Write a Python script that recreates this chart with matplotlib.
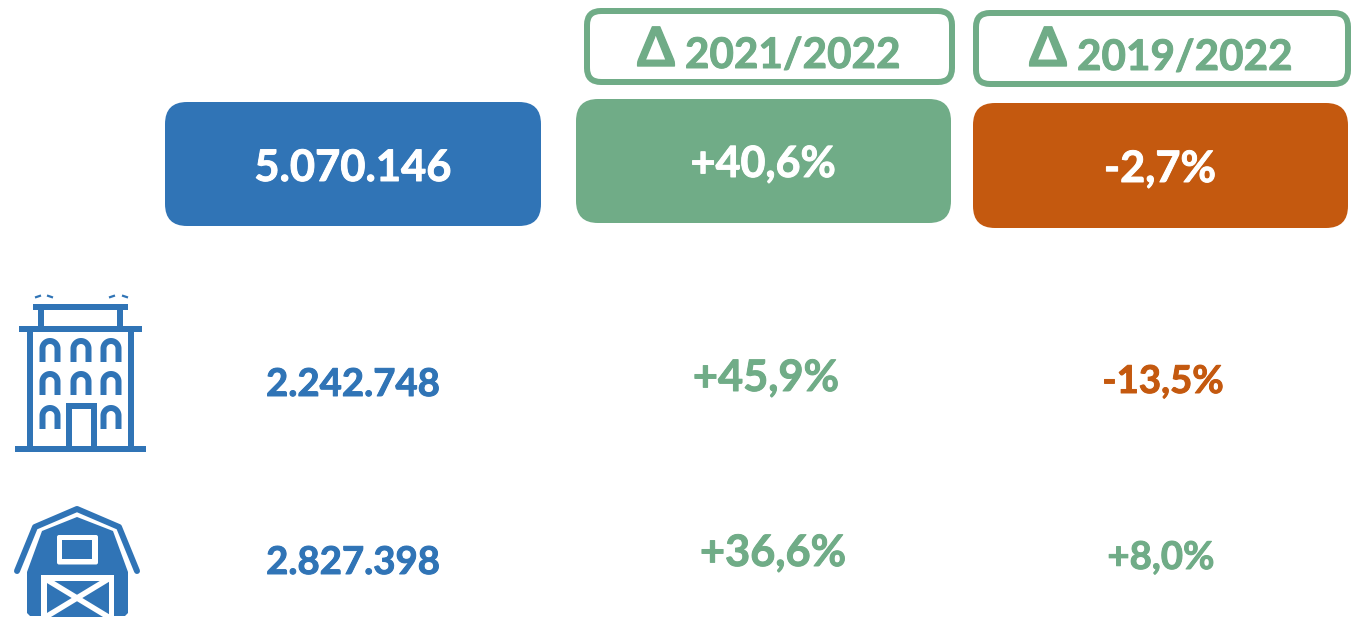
import matplotlib
matplotlib.use("Agg")
import matplotlib.pyplot as plt
from matplotlib.patches import FancyBboxPatch, Rectangle, Polygon
import matplotlib.patheffects as pe
import numpy as np

totals = ["5.070.146"]
urban_rural = ["2.242.748", "2.827.398"]
delta_headers = ["2021/2022", "2019/2022"]
delta_total = ["+40,6%", "-2,7%"]
delta_urban = ["+45,9%", "-13,5%"]
delta_rural = ["+36,6%", "+8,0%"]

BLUE = "#3074B6"
GREEN = "#70AC87"
ORANGE = "#C4590F"
W, H = 1353, 627
plt.rcParams["font.family"] = ["Lato", "DejaVu Sans"]

fig = plt.figure(figsize=(W / 100, H / 100), dpi=100)
ax = fig.add_axes([0, 0, 1, 1])
ax.set_xlim(0, W); ax.set_ylim(H, 0); ax.axis("off")
PX = 0.72


def box(x0, y0, x1, y1, r=18, fc=None, ec="none", lw=0):
    ax.add_patch(FancyBboxPatch((x0 + r, y0 + r), x1 - x0 - 2 * r, y1 - y0 - 2 * r,
                                boxstyle=f"round,pad={r},rounding_size={r}",
                                fc=fc if fc else "none", ec=ec, lw=lw * PX))


def label(x, y, s, size, color, bold=0.7):
    ax.text(x, y, s, fontsize=size, color=color, ha="center", va="baseline", fontweight="bold",
            path_effects=[pe.withStroke(linewidth=bold, foreground=color)])


# header outlines
box(587, 11, 952, 82, r=14, ec=GREEN, lw=6)
box(976, 13, 1348, 84, r=14, ec=GREEN, lw=6)
for dx, dy, tx, ty, s in [(656, 66, 793, 68, delta_headers[0]), (1048, 66, 1185, 70, delta_headers[1])]:
    label(dx, dy, "Δ", 39, GREEN, bold=1.0)
    label(tx, ty, s, 30.4, GREEN)

# headline boxes
box(165, 102, 541, 226, r=22, fc=BLUE)
box(576, 99, 951, 223, r=22, fc=GREEN)
box(973, 103, 1348, 228, r=22, fc=ORANGE)
label(353, 181, totals[0], 31.3, "white")
label(763, 177, delta_total[0], 31, "white")
label(1160, 182, delta_total[1], 31.2, "white")

# rows
label(353, 396, urban_rural[0], 27.6, BLUE)
label(766, 391, delta_urban[0], 31.2, GREEN)
label(1163, 393, delta_urban[1], 27.6, ORANGE)
label(353, 574, urban_rural[1], 27.6, BLUE)
label(773, 566, delta_rural[0], 31.2, GREEN)
label(1161, 569, delta_rural[1], 27.6, GREEN)


# building icon
def rect(x0, y0, x1, y1, c=BLUE):
    ax.add_patch(Rectangle((x0, y0), x1 - x0, y1 - y0, fc=c, ec="none"))


for r in [(33, 304, 128, 310), (38, 310, 44, 327), (117, 310, 123, 327), (19, 326, 142, 332),
          (27, 332, 33, 447), (128, 332, 134, 447), (15, 446, 146, 452),
          (66, 403, 72, 447), (91, 403, 97, 447), (66, 403, 97, 409)]:
    rect(*r)
for x0, x1 in [(35, 53), (109, 128)]:
    ax.plot([x0, x0 + 6], [297.5, 295.5], color=BLUE, lw=1.6, solid_capstyle="butt")
    ax.plot([x1 - 6, x1], [295.5, 297.5], color=BLUE, lw=1.6, solid_capstyle="butt")

theta = np.linspace(np.pi, 0, 30)
for cx, top, bot in [(50, 338, 362), (81, 338, 362), (111, 338, 362),
                     (50, 371, 395), (81, 371, 395), (111, 371, 395),
                     (50, 405, 429), (111, 405, 429)]:
    r = 7.5
    xs = np.r_[cx - r, cx + r * np.cos(theta), cx + r]
    ys = np.r_[bot, top + 3 + r - r * np.sin(theta), bot]
    ax.plot(xs, ys, color=BLUE, lw=6 * PX, solid_capstyle="butt", solid_joinstyle="round")

# barn icon
ax.plot([17, 35, 77, 119, 137], [571, 527, 509, 527, 571], color=BLUE, lw=6 * PX,
        solid_capstyle="round", solid_joinstyle="round")
ax.add_patch(Polygon([(27, 572), (42, 531), (77, 517), (113, 531), (128, 572), (128, 613), (125, 616),
                      (30, 616), (27, 613)], closed=True, fc=BLUE, ec="none"))
box(57, 535, 98, 564.5, r=2, fc="white")
rect(62, 540, 92, 559)
rect(41, 575, 114, 617, "white")
rect(46.5, 581, 108.5, 617)
ax.plot([44, 110], [578, 618], color="white", lw=5.5 * PX, solid_capstyle="butt")
ax.plot([44, 110], [618, 578], color="white", lw=5.5 * PX, solid_capstyle="butt")
rect(41, 617, 114, 627, "white")

fig.savefig("out.png", dpi=100, facecolor="white")
